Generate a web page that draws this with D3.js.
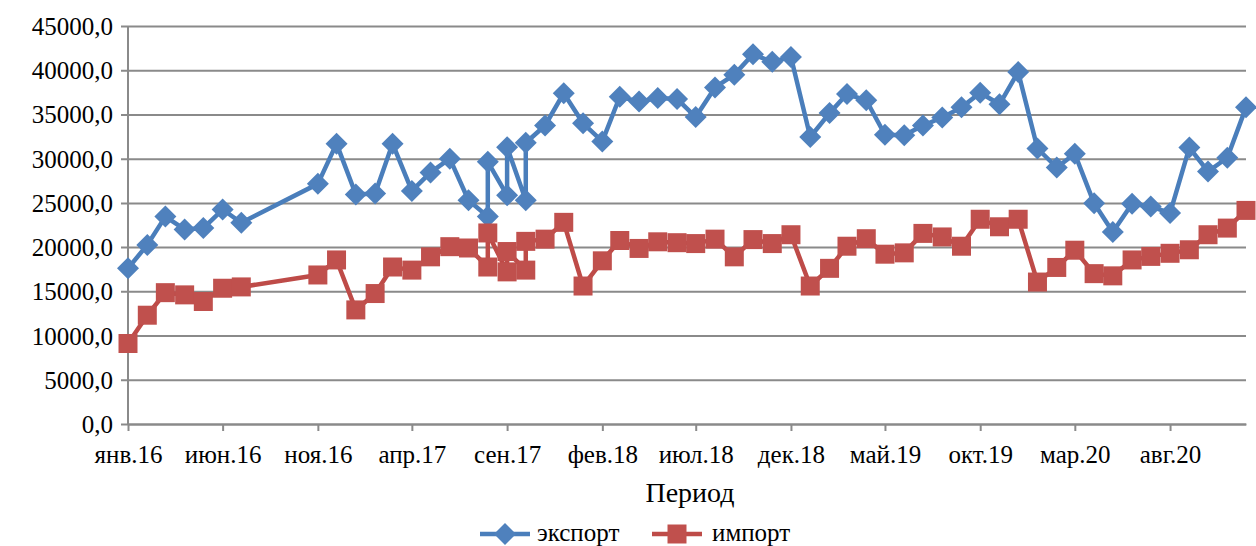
<!DOCTYPE html>
<html>
<head>
<meta charset="utf-8">
<script src="https://cdn.jsdelivr.net/npm/d3@7"></script>
<style>
  html, body { margin: 0; padding: 0; background: #ffffff; }
  svg { display: block; }
</style>
</head>
<body>
<svg id="chart" width="1256" height="546"></svg>
<script>
// ---- data ----
const periods = [
  "2016-01","2016-02","2016-03","2016-04","2016-05","2016-06","2016-07",
  "2016-11","2016-12","2017-01","2017-02","2017-03","2017-04","2017-05","2017-06","2017-07",
  "2017-08","2017-08","2017-09","2017-09","2017-10","2017-10","2017-11","2017-12",
  "2018-01","2018-02","2018-03","2018-04","2018-05","2018-06","2018-07","2018-08","2018-09","2018-10","2018-11","2018-12",
  "2019-01","2019-02","2019-03","2019-04","2019-05","2019-06","2019-07","2019-08","2019-09","2019-10","2019-11","2019-12",
  "2020-01","2020-02","2020-03","2020-04","2020-05","2020-06","2020-07","2020-08","2020-09","2020-10","2020-11","2020-12"
];
const exportValues = [
  17600,20250,23450,22000,22150,24250,22750,
  27150,31700,25950,26050,31700,26350,28450,30000,25300,
  23450,29650,25850,31300,25300,31800,33750,37400,
  34000,31950,37000,36450,36850,36750,34700,38050,39500,41800,40950,41500,
  32450,35150,37300,36600,32700,32650,33750,34650,35800,37450,36150,39800,
  31150,29000,30550,24950,21700,24900,24600,23850,31250,28550,30100,35800
];
const importValues = [
  9100,12300,14850,14600,13850,15350,15500,
  16850,18550,12900,14750,17750,17400,18900,20050,19900,
  17750,21600,17200,19500,17400,20650,20900,22800,
  15600,18450,20750,19850,20600,20500,20400,20900,18900,20850,20400,21400,
  15600,17600,20100,20950,19200,19350,21550,21150,20100,23150,22300,23150,
  16050,17700,19650,17000,16750,18550,18950,19300,19700,21400,22150,24150
];
const seriesNames = ["экспорт", "импорт"];
const xTickDates = ["2016-01","2016-06","2016-11","2017-04","2017-09","2018-02","2018-07","2018-12","2019-05","2019-10","2020-03","2020-08"];
const xTickLabels = ["янв.16","июн.16","ноя.16","апр.17","сен.17","фев.18","июл.18","дек.18","май.19","окт.19","мар.20","авг.20"];
const yTicks = [0,5000,10000,15000,20000,25000,30000,35000,40000,45000];
const xTitle = "Период";

// ---- setup ----
const FONT = "'Liberation Serif', LiberationSerif, Tinos, 'Times New Roman', Times, 'DejaVu Serif', 'Nimbus Roman', FreeSerif, serif";
const parse = d3.utcParse("%Y-%m");
const svg = d3.select("#chart").style("font-family", FONT);
const W = 1256, H = 546;
const m = { left: 128, right: 10, top: 26, bottom: 122 };

const x = d3.scaleUtc()
  .domain([parse("2016-01"), parse("2020-12")])
  .range([m.left, W - m.right]);
const y = d3.scaleLinear()
  .domain([0, 45000])
  .range([H - m.bottom, m.top]);

const gridColor = "#8a8a8a";
const fmt = v => v.toFixed(1).replace(".", ",");

// gridlines + y axis
const yAxis = d3.axisLeft(y)
  .tickValues(yTicks)
  .tickFormat(fmt)
  .tickSize(-(W - m.right - m.left))
  .tickSizeOuter(0)
  .tickPadding(15);
const gy = svg.append("g").attr("transform", `translate(${m.left},0)`).call(yAxis);
gy.attr("font-family", null);
gy.select(".domain").remove();
gy.selectAll(".tick line").attr("stroke", gridColor).attr("stroke-width", 2).attr("x1", -7);
gy.selectAll(".tick text")
  .attr("fill", "#000").attr("font-size", 25)
  .style("font-family", FONT)
  .attr("dy", "0.34em").attr("x", -15);

// y axis line
svg.append("line")
  .attr("x1", m.left).attr("x2", m.left)
  .attr("y1", y(45000)).attr("y2", y(0))
  .attr("stroke", gridColor).attr("stroke-width", 2);

// x axis
const tickDates = xTickDates.map(parse);
const xAxis = d3.axisBottom(x)
  .tickValues(tickDates)
  .tickFormat((d, i) => xTickLabels[i])
  .tickSize(7)
  .tickSizeOuter(0)
  .tickPadding(14);
const gx = svg.append("g").attr("transform", `translate(0,${y(0)})`).call(xAxis);
gx.attr("font-family", null);
gx.select(".domain").attr("stroke", gridColor).attr("stroke-width", 2);
gx.selectAll(".tick line").attr("stroke", gridColor).attr("stroke-width", 2);
gx.selectAll(".tick text")
  .attr("fill", "#000").attr("font-size", 25)
  .style("font-family", FONT);

// x title
svg.append("text")
  .attr("x", (m.left + W - m.right) / 2 + 3)
  .attr("y", 502)
  .attr("text-anchor", "middle")
  .attr("font-size", 28)
  .style("font-family", FONT)
  .attr("fill", "#000")
  .text(xTitle);

// ---- series ----
const rows = periods.map((p, i) => ({ date: parse(p), exp: exportValues[i], imp: importValues[i] }));
const series = [
  { name: seriesNames[0], key: "exp", line: "#4A7EBB", fill: "#4F81BD", shape: "diamond" },
  { name: seriesNames[1], key: "imp", line: "#BE4B48", fill: "#C0504D", shape: "square" }
];

const diamond = s => `M0,${-s} L${s},0 L0,${s} L${-s},0 Z`;
const square = s => `M${-s},${-s} H${s} V${s} H${-s} Z`;
const markerPath = sh => sh === "diamond" ? diamond(11) : square(9.5);

series.forEach(s => {
  const line = d3.line().x(d => x(d.date)).y(d => y(d[s.key]));
  svg.append("path")
    .datum(rows)
    .attr("fill", "none")
    .attr("stroke", s.line)
    .attr("stroke-width", 4.5)
    .attr("stroke-linejoin", "round")
    .attr("d", line);
  svg.append("g").selectAll("path")
    .data(rows)
    .join("path")
    .attr("transform", d => `translate(${x(d.date)},${y(d[s.key])})`)
    .attr("d", markerPath(s.shape))
    .attr("fill", s.fill);
});

// ---- legend ----
const legendItems = [
  { s: series[0], x0: 480, tx: 537 },
  { s: series[1], x0: 652, tx: 712 }
];
const ly = 534;
legendItems.forEach(it => {
  const g = svg.append("g");
  g.append("line")
    .attr("x1", it.x0).attr("x2", it.x0 + 50)
    .attr("y1", ly).attr("y2", ly)
    .attr("stroke", it.s.line).attr("stroke-width", 4.5);
  g.append("path")
    .attr("transform", `translate(${it.x0 + 25},${ly})`)
    .attr("d", markerPath(it.s.shape))
    .attr("fill", it.s.fill);
  g.append("text")
    .attr("x", it.tx).attr("y", 541)
    .attr("font-size", 25)
    .style("font-family", FONT)
    .attr("fill", "#000")
    .text(it.s.name);
});
</script>
</body>
</html>
